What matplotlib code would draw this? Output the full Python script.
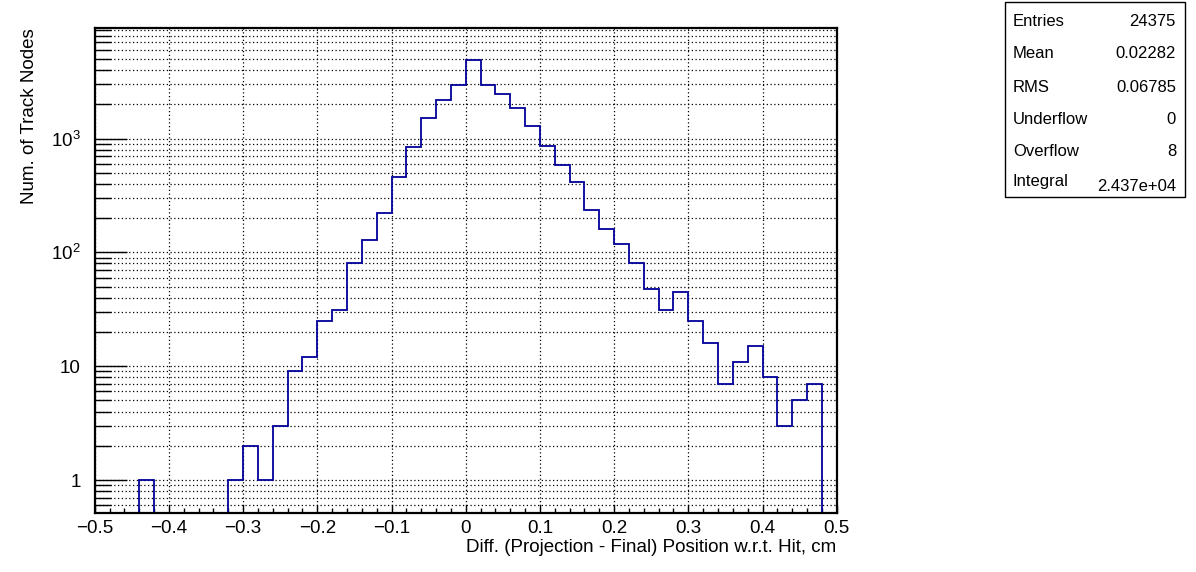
import matplotlib
matplotlib.use("Agg")
import matplotlib.pyplot as plt
from matplotlib import font_manager
from matplotlib.ticker import FixedLocator, FixedFormatter, LogLocator, NullFormatter, MultipleLocator, FuncFormatter
from matplotlib.patches import Rectangle

# 50 bins from -0.5 to 0.5 (width 0.02)
x_min = -0.5
x_max = 0.5
counts = [0, 0, 0, 1, 0, 0, 0, 0, 0, 1,
          2, 1, 3, 9, 12, 25, 31, 80, 128, 222,
          460, 844, 1507, 2171, 2940, 4908, 2940, 2449, 1847, 1282,
          856, 582, 413, 234, 160, 118, 80, 48, 31, 45,
          25, 16, 7, 11, 15, 8, 3, 5, 7, 0]

y_major = [1, 10, 100, 1000]
y_major_labels = ['1', '10', '$10^{2}$', '$10^{3}$']

stat_names = ['Entries', 'Mean', 'RMS', 'Underflow', 'Overflow', 'Integral']
stat_values = ['24375', '0.02282', '0.06785', '0', '8', '2.437e+04']

x_title = 'Diff. (Projection - Final) Position w.r.t. Hit, cm'
y_title = 'Num. of Track Nodes'

names = {f.name for f in font_manager.fontManager.ttflist}
axis_font = 'Liberation Sans Narrow' if 'Liberation Sans Narrow' in names else 'Liberation Sans'
plt.rcParams['font.family'] = ['Liberation Sans', 'DejaVu Sans']
plt.rcParams['mathtext.default'] = 'regular'

W, H = 1196, 572
fig = plt.figure(figsize=(W / 100, H / 100), dpi=100)
ax = fig.add_axes([94.7 / W, 1 - 513.3 / H, (836.7 - 94.7) / W, (513.3 - 27.7) / H])

n = len(counts)
edges = [x_min + (x_max - x_min) * i / n for i in range(n + 1)]

ax.set_yscale('log')
ax.stairs(counts, edges, color='#000099', linewidth=1.3, baseline=0)
ax.set_xlim(x_min, x_max)
ax.set_ylim(0.51, 9430)


def xfmt(v, pos):
    s = f'{v:.1f}'
    if s in ('0.0', '-0.0'):
        return '0'
    return s.replace('-', '\u2212')


# ticks
ax.xaxis.set_major_locator(MultipleLocator(0.1))
ax.xaxis.set_major_formatter(FuncFormatter(xfmt))
ax.xaxis.set_minor_locator(MultipleLocator(0.02))
ax.yaxis.set_major_locator(FixedLocator(y_major))
ax.yaxis.set_major_formatter(FixedFormatter(y_major_labels))
ax.yaxis.set_minor_locator(LogLocator(base=10, subs=range(2, 10)))
ax.yaxis.set_minor_formatter(NullFormatter())

ax.tick_params(axis='x', which='major', direction='in', length=6, width=1, pad=5, labelsize=13.5, top=False)
ax.tick_params(axis='x', which='minor', direction='in', length=3.5, width=1, top=False)
ax.tick_params(axis='y', which='major', direction='in', length=23, width=1, pad=10, labelsize=13.5, right=False)
ax.tick_params(axis='y', which='minor', direction='in', length=11.5, width=1, right=False)
for lab in ax.get_xticklabels() + ax.get_yticklabels():
    lab.set_fontfamily([axis_font, 'DejaVu Sans'])

ax.grid(True, axis='x', which='major', color='black', linestyle=(0, (1, 2)), linewidth=0.9)
ax.grid(True, axis='y', which='both', color='black', linestyle=(0, (1, 2)), linewidth=0.9)
ax.set_axisbelow(True)

for sp in ax.spines.values():
    sp.set_linewidth(1.6)

fig.text(836 / W, 1 - 547 / H, x_title, ha='right', va='center', fontsize=13.5,
         family=[axis_font, 'DejaVu Sans'])
fig.text(30 / W, 1 - 28 / H, y_title, ha='center', va='top', rotation=90, fontsize=13.5,
         family=[axis_font, 'DejaVu Sans'])

# stats box
fig.patches.append(Rectangle((1005 / W, 1 - 197 / H), 180 / W, 195 / H,
                             transform=fig.transFigure, facecolor='white',
                             edgecolor='black', linewidth=1))
rows_y = [22, 54, 87, 119, 151, 182]
for name, val, yy in zip(stat_names, stat_values, rows_y):
    dy = 5 if name == 'Integral' else 0
    fig.text(1013 / W, 1 - yy / H, name, ha='left', va='center', fontsize=12)
    fig.text(1176 / W, 1 - (yy + dy) / H, val, ha='right', va='center', fontsize=12)

fig.savefig('out.png', dpi=100)
